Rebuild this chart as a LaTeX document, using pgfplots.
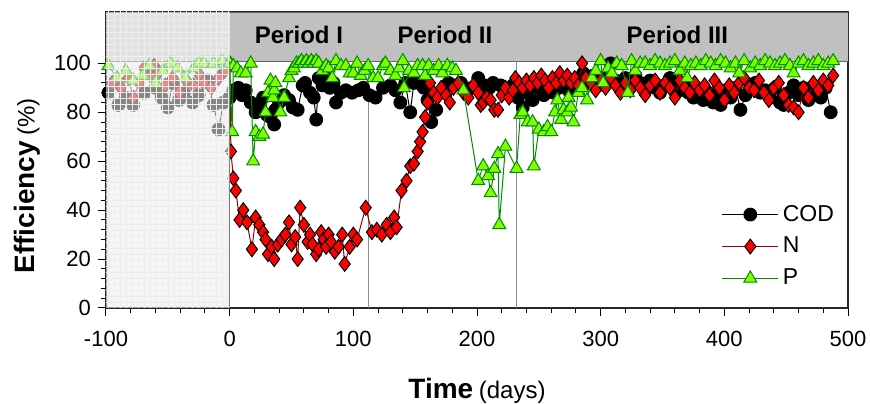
\documentclass[border=0pt]{standalone}
\usepackage{fontspec}
\setmainfont{Liberation Sans}
\usepackage{pgfplots}
\usepackage{pgfplotstable}
\pgfplotsset{compat=1.18}
\usetikzlibrary{patterns}

\definecolor{nfill}{RGB}{255,0,0}
\definecolor{nline}{RGB}{150,0,0}
\definecolor{pfill}{RGB}{128,255,0}
\definecolor{pline}{RGB}{0,140,0}
\definecolor{bandc}{RGB}{192,192,192}

\pgfplotstableread{
x y
-98 88
-90 83
-84 86
-78 83
-69 88
-60 90
-55 86
-50 82
-46 92
-41 85
-37 88
-30 84
-25 87
-18 93
-13 83
-9 73
-5 84
0 86
3 89
7 90
10 87
13 89
17 84
21 80
24 83
27 86
30 79
33 78
36 75
37 81
40 84
44 87
48 85
51 82
55 81
59 91
61 92
65 88
68 86
70 77
72 94
75 91
78 95
81 90
84 92
86 84
90 88
94 89
99 88
104 89
108 90
113 87
118 86
124 90
130 91
134 89
138 84
142 92
146 80
149 92
153 92
157 90
160 85
163 76
167 81
170 88
174 90
177 92
181 91
187 92
192 89
196 90
201 94
206 91
210 90
213 92
219 91
224 88
229 91
233 86
237 82
241 88
245 85
250 90
254 87
258 92
262 88
266 90
270 93
274 89
278 91
282 94
286 96
290 92
294 95
298 91
302 94
308 100
312 93
316 90
320 94
324 91
328 95
332 92
336 89
340 93
344 90
348 88
352 91
356 94
360 92
364 89
368 91
371 88
375 86
379 89
383 85
387 88
391 84
395 87
397 83
401 89
405 86
409 90
413 81
417 87
421 90
425 92
429 88
433 89
437 86
441 90
445 84
448 83
452 88
456 91
460 87
464 90
468 85
472 89
478 86
482 90
486 80
}\codtable

\pgfplotstableread{
x y
-95 92
-88 90
-82 94
-78 86
-73 92
-69 98
-64 95
-61 99
-58 96
-52 91
-46 94
-41 88
-35 93
-29 91
-24 95
-21 92
-15 90
-9 94
-4 97
0 100
1 64
3 53
5 48
8 36
11 40
14 35
18 24
21 37
24 34
27 31
29 28
31 22
34 25
36 20
39 26
42 28
45 30
48 35
50 26
53 29
55 20
57 41
60 34
63 27
65 30
67 26
70 22
72 24
74 31
76 28
78 25
80 30
82 27
85 23
88 25
91 30
93 18
97 25
100 30
103 28
110 41
115 31
119 32
123 30
127 34
130 31
133 37
135 33
139 48
143 52
146 58
149 59
152 64
154 68
156 72
158 78
160 84
162 92
165 88
168 86
171 90
175 87
178 84
181 90
185 92
189 88
193 86
197 91
201 88
203 83
205 84
208 86
211 85
214 81
217 81
220 87
223 90
226 86
229 89
231 94
234 92
237 90
240 93
243 91
246 94
249 92
252 95
255 93
258 90
261 94
264 92
267 96
270 93
273 95
276 92
279 94
282 91
285 100
288 94
292 92
296 89
300 93
304 90
308 94
312 91
316 88
320 92
324 89
328 93
332 90
336 87
340 91
344 93
348 88
352 92
356 90
360 86
364 93
368 90
372 88
376 92
380 89
384 91
388 87
392 93
396 90
400 85
404 91
408 88
412 92
416 94
420 90
424 89
428 93
432 88
436 85
440 90
444 92
448 87
452 83
456 82
460 80
464 90
468 86
472 92
476 89
480 93
484 91
488 95
}\ntable

\pgfplotstableread{
x y
-98 99
-91 94
-84 97
-78 93
-70 95
-65 99
-60 92
-54 97
-48 100
-42 98
-36 94
-29 98
-25 100
-21 100
-13 100
-6 101
-2 99
0 100
2 72
3 99
6 98
9 96
13 96
17 100
19 60
21 72
24 70
27 71
29 80
31 88
33 93
35 86
36 89
37 92
41 80
44 86
48 94
50 97
52 98
54 100
56 100
58 101
60 100
62 101
64 100
66 101
68 100
70 101
72 100
75 97
78 99
80 98
83 94
86 101
90 99
94 99
97 96
100 96
103 100
106 95
109 97
112 99
116 94
120 94
124 99
126 100
130 97
134 95
137 98
140 101
141 90
145 97
149 96
152 99
156 99
158 95
161 99
165 97
169 99
172 96
176 99
180 98
183 97
189 89
201 52
205 58
209 54
211 47
214 57
217 63
218 34
223 66
232 57
235 79
237 80
241 76
245 76
246 58
250 73
254 72
257 74
260 72
263 80
265 85
268 77
270 81
273 80
274 86
276 82
278 76
282 88
285 90
289 85
293 94
296 97
300 101
302 92
306 98
309 96
313 100
317 99
322 88
325 101
328 97
332 100
336 100
340 99
344 101
348 100
352 99
356 100
360 101
364 97
368 100
370 94
373 99
377 100
381 99
385 101
389 100
393 99
397 101
401 100
405 98
409 100
412 96
416 101
421 98
425 100
429 99
433 101
437 100
441 99
445 100
449 101
453 99
456 96
460 100
464 101
468 99
472 100
476 101
480 99
484 100
488 101
}\ptable

\begin{document}
\begin{tikzpicture}
\begin{axis}[
  clip mode=individual,
  scale only axis, width=371pt, height=148pt,
  xmin=-100, xmax=500, ymin=0, ymax=121,
  xtick={-100,0,...,500}, minor xtick={-80,-60,...,480},
  ytick={0,20,...,100}, minor ytick={4,8,...,96},
  tick pos=left, tick align=outside,
  major tick length=4pt, minor tick length=2.5pt,
  every tick/.style={black, line width=0.5pt},
  axis line style={black!85, line width=0.6pt},
  ticklabel style={font=\fontsize{11}{13}\selectfont},
  xticklabel style={yshift=-4pt},
  /pgf/number format/assume math mode=true,
  xlabel={{\fontsize{14}{16}\selectfont\bfseries Time} {\fontsize{12}{14}\selectfont (days)}},
  xlabel style={yshift=-9pt},
  ylabel={{\fontsize{14}{16}\selectfont\bfseries Efficiency} {\fontsize{12}{14}\selectfont (\%)}},
  ylabel style={at={(ticklabel cs:0.413)}},
  legend style={draw=none, fill=none, at={(0.995,0.04)}, anchor=south east,
    font=\fontsize{11.5}{13}\selectfont, row sep=2.5pt, cells={anchor=west}},
  legend image code/.code={\draw[mark repeat=2,mark phase=2] plot coordinates {(0pt,0pt) (14pt,0pt) (28pt,0pt)};},
]
% upper band and period separators (drawn first, under the data)
\addplot[draw=black!60, line width=0.4pt, fill=bandc, forget plot] coordinates {(-100,101) (500,101) (500,121) (-100,121)} -- cycle;
\addplot[black!45, line width=0.6pt, forget plot] coordinates {(112,0) (112,101)};
\addplot[black!45, line width=0.6pt, forget plot] coordinates {(232,0) (232,101)};

\addplot[black, line width=0.5pt, mark=*, mark size=3.2pt, mark options={fill=black, draw=black}] table[x=x,y=y] {\codtable};
\addplot[nline, line width=0.5pt, mark=diamond*, mark size=3.7pt, mark options={fill=nfill, draw=black, line width=0.5pt}] table[x=x,y=y] {\ntable};
\addplot[pline, line width=0.5pt, mark=triangle*, mark size=3.7pt, mark options={fill=pfill, draw=pline, line width=0.5pt}] table[x=x,y=y] {\ptable};
\legend{COD,N,P}

% start-up period shading drawn over the data
\addplot[draw=none, fill=white, fill opacity=0.55, forget plot] coordinates {(-100,0) (0,0) (0,121) (-100,121)} -- cycle;
\addplot[draw=none, fill=black, fill opacity=0.04, forget plot] coordinates {(-100,0) (0,0) (0,101) (-100,101)} -- cycle;
\addplot[draw=none, pattern=grid, pattern color=black!7, forget plot] coordinates {(-100,0) (0,0) (0,121) (-100,121)} -- cycle;
\addplot[black!50, line width=0.6pt, forget plot] coordinates {(0,0) (0,101)};

\node[font=\fontsize{12}{14}\selectfont\bfseries] at (axis cs:56,111.5) {Period I};
\node[font=\fontsize{12}{14}\selectfont\bfseries] at (axis cs:174,111.5) {Period II};
\node[font=\fontsize{12}{14}\selectfont\bfseries] at (axis cs:362,111.5) {Period III};
\end{axis}
\pgfresetboundingbox
\path[use as bounding box] ([shift={(-53pt,-48pt)}]current axis.south west) rectangle ([shift={(11pt,6pt)}]current axis.north east);
\end{tikzpicture}
\end{document}
